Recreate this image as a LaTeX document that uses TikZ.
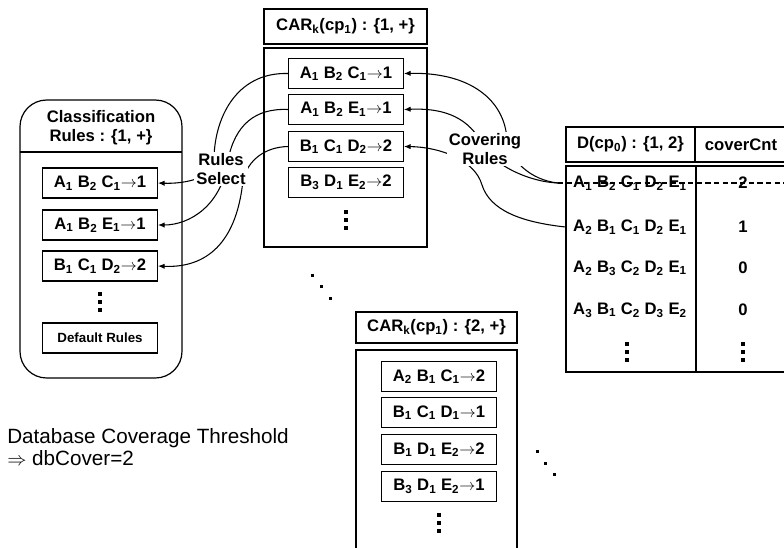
\documentclass[tikz,border=0pt]{standalone}
\usepackage{fontspec}
\setmainfont{Liberation Sans}
\usetikzlibrary{arrows.meta}

\newcommand{\bx}{\fontsize{12.5}{14}\selectfont\bfseries}
\newcommand{\sbx}[1]{\textsubscript{#1}}
\newcommand{\arr}{\ensuremath{\rightarrow}}

\tikzset{
  rulebox/.style={draw, line width=0.9pt, minimum width=86pt, minimum height=22.5pt, inner sep=0pt, font=\bx},
  headbox/.style={draw, line width=0.9pt, inner sep=0pt, font=\bx},
  cell/.style={inner sep=0pt, font=\bx},
  lbl/.style={font=\bx, align=center, fill=white, inner sep=1.5pt},
  frame/.style={line width=0.9pt},
  selarr/.style={line width=0.8pt, -{Latex[length=5pt,width=4pt]}},
  ddot/.style={fill=black},
  vdts/.pic={
    \fill (-1.6,-9.6) rectangle ++(3.2,3.2);
    \fill (-1.6,-1.6) rectangle ++(3.2,3.2);
    \fill (-1.6,6.4) rectangle ++(3.2,3.2);
  }
}

\begin{document}
\begin{tikzpicture}[x=0.75pt,y=0.75pt,yscale=-1,xscale=1]
    \useasboundingbox (0,0) rectangle (784,547);

    % classification rules
    \draw[frame, rounded corners=20] (20,100) rectangle (182,378);
    \draw[frame] (20,152) -- (182,152);
    \node[cell, align=center] (clhead) at (101,128) {Classification\\Rules : \{1, +\}};
    \node[rulebox] (cl1) at (100,183) {A\sbx{1} B\sbx{2} C\sbx{1}\arr1};
    \node[rulebox] (cl2) at (100,225) {A\sbx{1} B\sbx{2} E\sbx{1}\arr1};
    \node[rulebox] (cl3) at (100,266) {B\sbx{1} C\sbx{1} D\sbx{2}\arr2};
    \pic at (100,302) {vdts};
    \node[rulebox, font=\fontsize{10}{12}\selectfont\bfseries] (cldef) at (100,338) {Default Rules};

    % CAR_k(cp_1) : {1,+}
    \node[headbox, minimum width=122.25pt, minimum height=26.25pt] (mhead) at (345.5,26.5) {CAR\sbx{k}(cp\sbx{1}) : \{1, +\}};
    \draw[frame] (264,48) rectangle (427,247);
    \node[rulebox] (m1) at (346,73.5) {A\sbx{1} B\sbx{2} C\sbx{1}\arr1};
    \node[rulebox] (m2) at (346,109.5) {A\sbx{1} B\sbx{2} E\sbx{1}\arr1};
    \node[rulebox] (m3) at (346,146.5) {B\sbx{1} C\sbx{1} D\sbx{2}\arr2};
    \node[rulebox] (m4) at (346,182.5) {B\sbx{3} D\sbx{1} E\sbx{2}\arr2};
    \pic at (346,220) {vdts};

    % CAR_k(cp_1) : {2,+}
    \node[headbox, minimum width=120.75pt, minimum height=23.25pt] (bhead) at (436.5,327.5) {CAR\sbx{k}(cp\sbx{1}) : \{2, +\}};
    \draw[frame] (356,350) rectangle (517,560);
    \node[rulebox] (b1) at (439,376.5) {A\sbx{2} B\sbx{1} C\sbx{1}\arr2};
    \node[rulebox] (b2) at (439,412.5) {B\sbx{1} C\sbx{1} D\sbx{1}\arr1};
    \node[rulebox] (b3) at (439,449.5) {B\sbx{1} D\sbx{1} E\sbx{2}\arr2};
    \node[rulebox] (b4) at (439,486.5) {B\sbx{3} D\sbx{1} E\sbx{2}\arr1};
    \pic at (439,523) {vdts};

    % D(cp_0) table
    \node[headbox, minimum width=96.75pt, minimum height=26.25pt] (dhead) at (630.5,144.5) {D(cp\sbx{0}) : \{1, 2\}};
    \draw[frame] (695,127) rectangle (800,162);
    \node[cell] (chead) at (741,144.5) {coverCnt};
    \draw[frame] (566,166) rectangle (800,372);
    \draw[frame] (696,166) -- (696,372);
    \node[cell] (r1) at (630,183) {A\sbx{1} B\sbx{2} C\sbx{1} D\sbx{2} E\sbx{1}};
    \node[cell] (r2) at (630,227) {A\sbx{2} B\sbx{1} C\sbx{1} D\sbx{2} E\sbx{1}};
    \node[cell] (r3) at (630,268) {A\sbx{2} B\sbx{3} C\sbx{2} D\sbx{2} E\sbx{1}};
    \node[cell] (r4) at (630,310) {A\sbx{3} B\sbx{1} C\sbx{2} D\sbx{3} E\sbx{2}};
    \pic at (627,352) {vdts};
    \node[cell] (c1) at (743,183) {2};
    \node[cell] (c2) at (743,227) {1};
    \node[cell] (c3) at (743,268) {0};
    \node[cell] (c4) at (743,310) {0};
    \pic at (743,352) {vdts};
    \coordinate (hit) at (558,183);
    \draw[line width=0.8pt, dash pattern=on 4pt off 2.5pt] (hit) -- ++(240,0);

    % rules select
    \draw[selarr] (m1.west) .. controls (235,72) and (214,120) .. (214,160) .. controls (214,178) and (185,184) .. (cl1.east);
    \draw[selarr] (m2.west) .. controls (255,108) and (235,125) .. (228,160) .. controls (222,205) and (190,225) .. (cl2.east);
    \draw[selarr] (m3.west) .. controls (265,147) and (248,160) .. (243,180) .. controls (236,250) and (200,268) .. (cl3.east);
    \node[lbl] (sel) at (221,169) {Rules\\Select};

    % covering rules
    \draw[selarr] (hit) .. controls (530,180) and (510,160) .. (507,140) .. controls (505,100) and (470,72) .. (m1.east);
    \draw[selarr] (hit) .. controls (530,182) and (490,165) .. (480,140) .. controls (465,115) and (440,108) .. (m2.east);
    \draw[selarr] (dhead.west |- r2) .. controls (520,222) and (490,210) .. (482,185) .. controls (475,160) and (440,147) .. (m3.east);
    \node[lbl] (cov) at (485,149) {Covering\\Rules};

    % more candidate sets
    \fill[ddot] (310.5,273.5) rectangle ++(3.5,3.5);
    \fill[ddot] (319.5,284.5) rectangle ++(3.5,3.5);
    \fill[ddot] (328.5,296.5) rectangle ++(3.5,3.5);
    \fill[ddot] (535.5,449.5) rectangle ++(3.5,3.5);
    \fill[ddot] (543.5,461.5) rectangle ++(3.5,3.5);
    \fill[ddot] (552.5,472.5) rectangle ++(3.5,3.5);

    % threshold
    \node[anchor=north west, inner sep=0pt, align=left, font=\fontsize{15.5}{16.5}\selectfont] (note) at (7,428) {Database Coverage Threshold\\$\Rightarrow$ dbCover=2};
\end{tikzpicture}
\end{document}
